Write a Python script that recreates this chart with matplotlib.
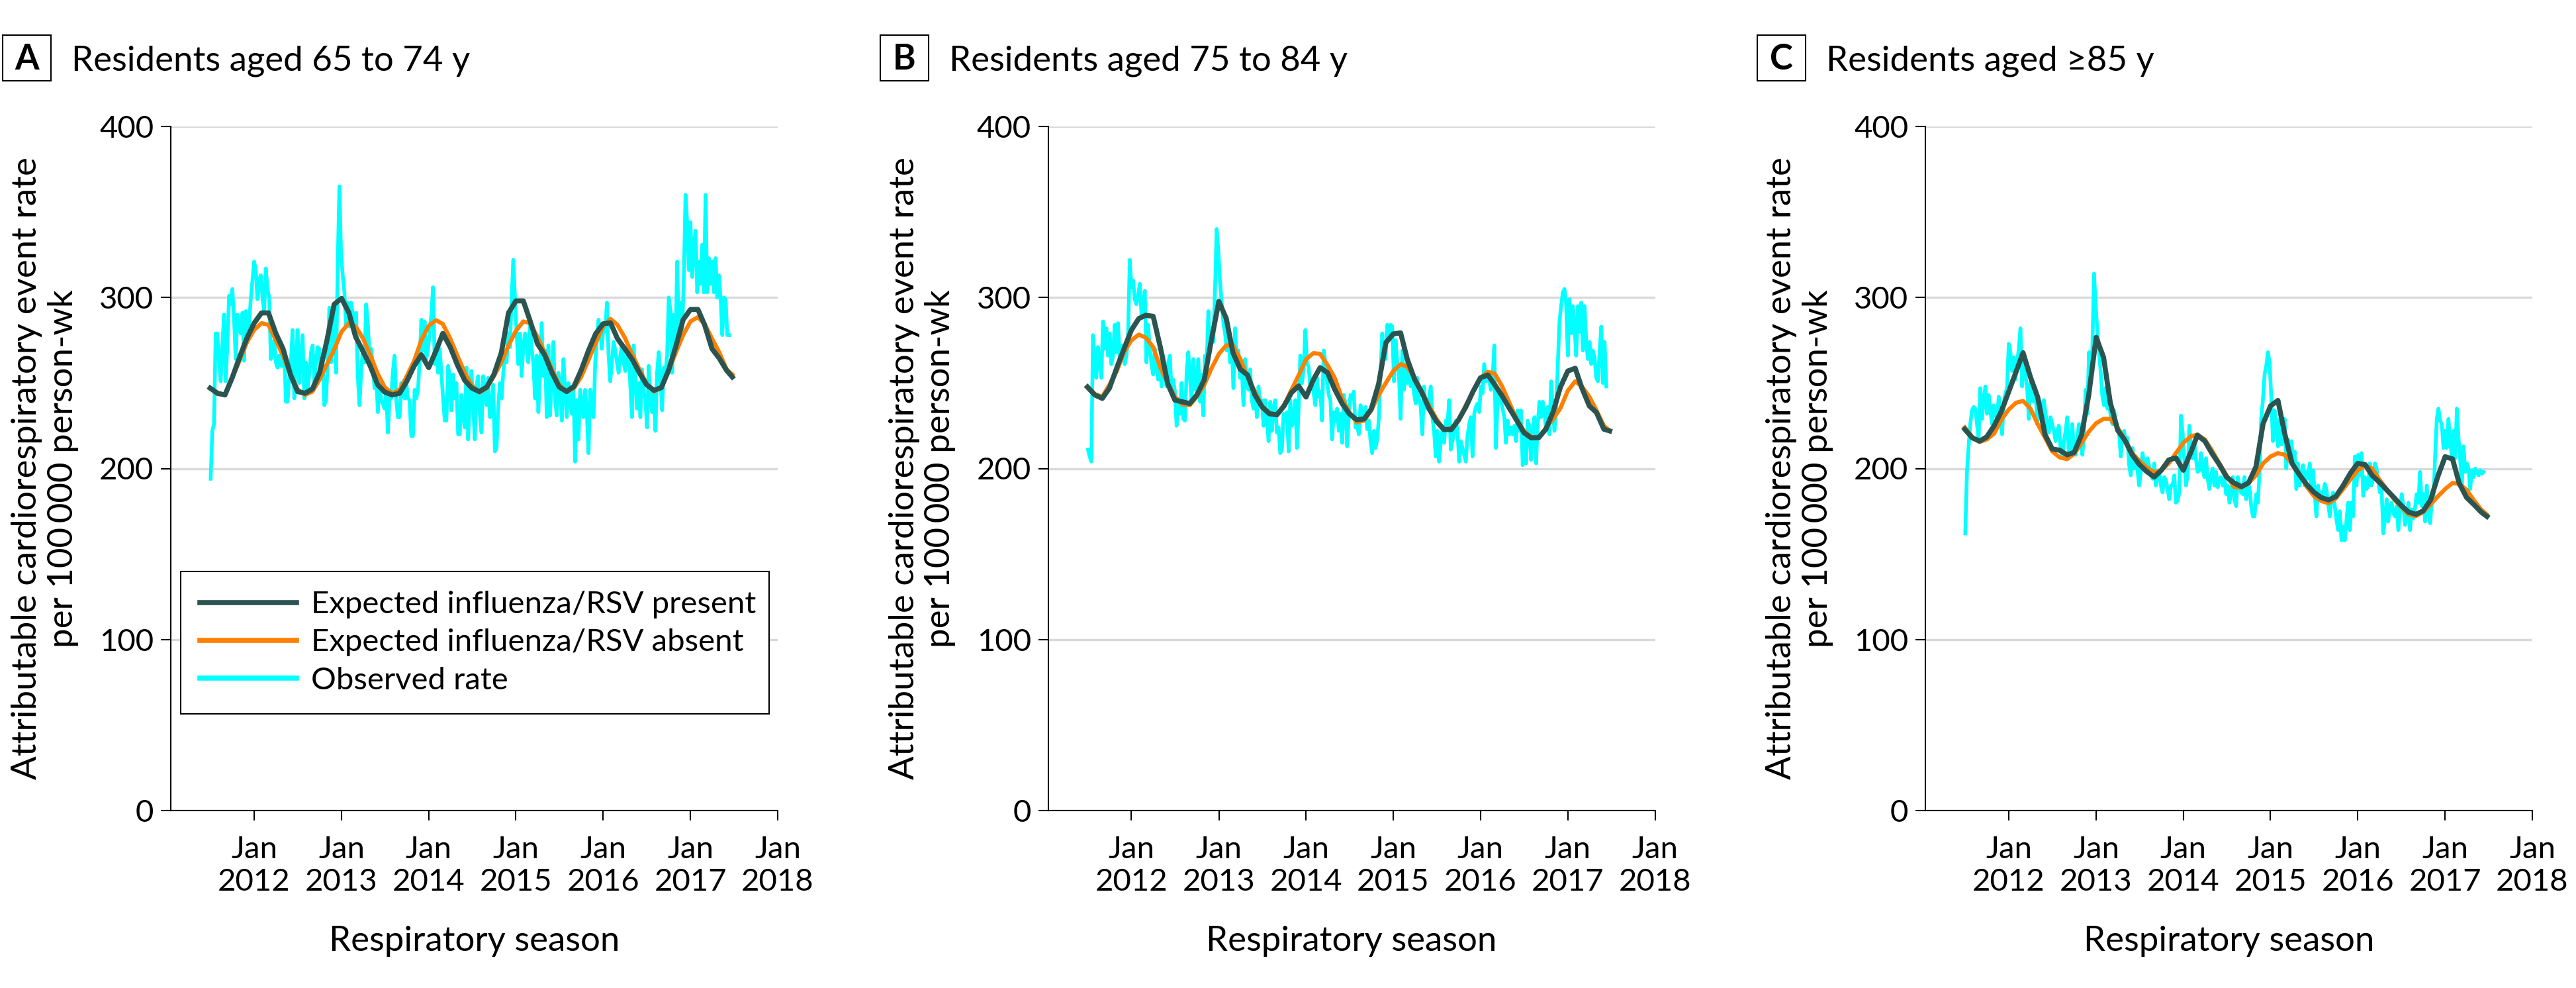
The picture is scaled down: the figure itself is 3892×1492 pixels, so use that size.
#Drei Panels: beobachtete und erwartete Ereignisraten nach Altersgruppe
import numpy as np
import pandas as pd
import matplotlib
matplotlib.use('Agg')
import matplotlib.pyplot as plt
from matplotlib.patches import Rectangle

plt.rcParams['font.family'] = ['Lato', 'DejaVu Sans']

#Beobachtete Raten (woechentlich, ab Juli 2011)
obs_a = [194, 222, 226, 279, 279, 263, 251, 272, 290, 251, 272, 301, 296, 305, 287, 264, 290, 283, 279, 291,
         263, 292, 274, 285, 299, 310, 321, 316, 299, 310, 313, 300, 292, 317, 305, 300, 264, 269, 275, 262,
         259, 266, 260, 260, 269, 239, 239, 253, 262, 281, 241, 262,
         281, 250, 265, 278, 241, 262, 246, 255, 268, 272, 250, 262, 271, 270, 255, 262, 237, 240, 262, 294,
         262, 294, 280, 256, 320, 365, 325, 313, 303, 283, 297, 283, 297, 291, 284, 291, 254, 237, 256, 270,
         262, 296, 285, 266, 270, 260, 247, 255, 233, 250, 240, 238,
         235, 245, 221, 241, 241, 257, 266, 240, 230, 230, 250, 246, 241, 250, 241, 240, 219, 219, 246, 241,
         246, 263, 287, 269, 286, 264, 270, 279, 290, 306, 261, 269, 256, 270, 256, 241, 228, 228, 260, 254,
         234, 255, 241, 250, 220, 220, 243, 231, 224, 259, 217, 240,
         257, 236, 217, 249, 254, 232, 221, 254, 246, 237, 253, 230, 231, 249, 210, 212, 236, 250, 241, 256,
         266, 262, 279, 271, 299, 322, 300, 279, 261, 279, 254, 271, 279, 272, 262, 285, 270, 262, 241, 266,
         233, 258, 285, 254, 269, 230, 272, 231, 255, 274, 240, 231,
         256, 250, 228, 264, 245, 230, 250, 240, 232, 246, 204, 240, 217, 246, 238, 230, 246, 232, 209, 246,
         238, 230, 262, 275, 287, 279, 270, 285, 280, 297, 266, 251, 262, 274, 269, 262, 256, 266, 273, 262,
         257, 266, 272, 248, 230, 272, 255, 235, 250, 230, 258, 245,
         240, 224, 260, 241, 233, 245, 222, 256, 268, 253, 234, 259, 256, 266, 300, 292, 256, 290, 269, 321,
         281, 297, 279, 312, 360, 344, 316, 344, 312, 331, 339, 303, 321, 308, 331, 303, 360, 303, 323, 308,
         321, 303, 323, 300, 313, 300, 278, 300, 299, 278, 278]
obs_b = [211, 207, 204, 278, 262, 253, 271, 264, 253, 286, 270, 282, 266, 279, 261, 266, 284, 268, 285, 264,
         272, 271, 261, 266, 278, 322, 306, 310, 299, 296, 301, 308, 290, 295, 304, 262, 284, 270, 261, 255,
         270, 258, 252, 262, 248, 266, 256, 248, 262, 266, 245, 252,
         245, 225, 240, 232, 250, 229, 228, 256, 268, 253, 240, 264, 246, 250, 264, 239, 255, 231, 266, 262,
         292, 269, 280, 274, 305, 340, 327, 309, 297, 285, 279, 269, 277, 262, 272, 247, 282, 262, 269, 253,
         259, 237, 264, 250, 246, 258, 240, 235, 245, 230, 248, 238,
         240, 225, 240, 230, 216, 239, 222, 236, 240, 221, 224, 209, 211, 232, 228, 233, 210, 240, 225, 228,
         240, 212, 235, 266, 250, 258, 281, 262, 259, 248, 252, 244, 237, 253, 242, 245, 228, 269, 262, 251,
         243, 240, 217, 233, 228, 235, 222, 232, 215, 243, 238, 213,
         230, 243, 241, 245, 224, 225, 220, 237, 232, 228, 236, 223, 228, 216, 209, 222, 212, 217, 230, 256,
         279, 265, 264, 284, 278, 284, 283, 251, 275, 262, 255, 229, 269, 246, 261, 250, 262, 248, 253, 244,
         238, 253, 241, 236, 220, 248, 236, 235, 241, 248, 230, 222,
         207, 222, 204, 216, 222, 215, 228, 225, 240, 211, 216, 222, 228, 222, 204, 216, 212, 208, 204, 219,
         226, 230, 207, 232, 236, 238, 233, 248, 244, 261, 251, 256, 251, 246, 253, 272, 212, 240, 246, 240,
         235, 230, 215, 228, 220, 224, 220, 225, 216, 234, 222, 234,
         202, 222, 203, 228, 225, 205, 220, 230, 203, 226, 239, 230, 239, 233, 222, 236, 220, 251, 235, 222,
         235, 260, 286, 295, 303, 305, 296, 266, 299, 279, 295, 283, 266, 295, 280, 297, 269, 295, 274, 264,
         274, 261, 269, 265, 253, 251, 268, 283, 250, 274, 248]
obs_c = [162, 198, 213, 226, 234, 236, 235, 226, 218, 247, 229, 240, 248, 232, 243, 234, 226, 237, 232, 229,
         242, 228, 220, 238, 244, 247, 273, 268, 257, 265, 252, 262, 270, 282, 248, 266, 255, 247, 229, 250,
         240, 239, 247, 226, 236, 239, 228, 240, 232, 226, 221, 230,
         226, 222, 216, 222, 225, 212, 206, 216, 222, 230, 206, 215, 226, 210, 208, 218, 226, 215, 208, 219,
         246, 232, 268, 255, 270, 314, 295, 281, 268, 256, 242, 237, 247, 235, 239, 230, 226, 234, 228, 225,
         221, 207, 218, 222, 215, 218, 202, 196, 212, 200, 206, 199,
         190, 198, 209, 203, 200, 206, 201, 198, 194, 203, 190, 196, 198, 190, 186, 195, 193, 188, 182, 190,
         190, 196, 180, 181, 186, 231, 221, 205, 190, 196, 225, 212, 206, 216, 205, 198, 199, 209, 200, 195,
         206, 194, 188, 196, 200, 190, 198, 189, 194, 195, 190, 194,
         185, 190, 180, 186, 195, 182, 178, 195, 190, 186, 185, 195, 182, 190, 189, 178, 172, 172, 185, 180,
         198, 229, 240, 255, 260, 268, 262, 242, 216, 234, 222, 213, 229, 214, 220, 229, 200, 217, 206, 216,
         205, 210, 188, 203, 190, 196, 202, 190, 198, 194, 203, 190,
         199, 185, 172, 190, 182, 186, 184, 191, 188, 180, 172, 182, 186, 178, 170, 164, 175, 158, 166, 158,
         170, 180, 164, 180, 172, 207, 190, 208, 196, 209, 184, 195, 188, 190, 203, 190, 195, 203, 200, 192,
         186, 188, 162, 170, 182, 169, 178, 180, 174, 172, 178, 164,
         175, 185, 178, 167, 171, 180, 164, 176, 171, 177, 185, 180, 198, 178, 185, 169, 190, 176, 168, 180,
         182, 207, 229, 235, 228, 226, 212, 222, 212, 229, 215, 208, 222, 206, 235, 218, 205, 190, 213, 198,
         203, 200, 188, 199, 195, 200, 198, 196, 199, 197, 198]

#Erwartete Raten (monatlich, Juli 2011 bis Juni 2017 plus Endwert)
present_a = [247, 244, 243, 253, 265, 276, 285, 291, 291, 279, 270, 255,
             245, 244, 246.5, 256, 275, 296, 299.5, 291, 277, 268.5, 260, 249,
             244.7, 243, 244, 251, 260, 266.5, 259, 269, 279, 271, 260.6, 251.5,
             247, 245, 247.6, 255, 267.7, 291, 298, 298, 286.5, 273, 266.5, 256,
             247.7, 245, 248, 257.4, 269, 278.8, 284.6, 285.2, 276, 270, 264, 256,
             249, 245.7, 247.3, 257.4, 271.6, 287, 293, 293, 284, 270, 264.5, 257.4,
             253.5]
absent_a = [247, 243.5, 243.5, 253, 263, 273.6, 281, 285, 284, 275, 266, 255,
            246.4, 243, 245, 252, 261, 269.5, 280, 285, 283, 276, 266.5, 255.5,
            247.5, 244, 246, 254, 263, 275, 283.5, 286.7, 284.5, 276, 266, 256,
            248.5, 244.4, 247, 254, 262, 272, 280.5, 286, 285, 277, 268, 258,
            249, 245, 247, 253.5, 263.5, 273.5, 283, 287.5, 284, 276.5, 267, 258,
            249.5, 245, 247.5, 257, 268, 278, 286, 288.5, 284.5, 276, 268, 258,
            255]
present_b = [247.6, 243, 241, 247, 259, 270, 281, 287.7, 289.6, 289, 271, 249.5,
             240, 239, 238, 243, 252, 275.4, 297.7, 287.7, 267.7, 258, 254.7, 243,
             236, 232, 231.4, 236.6, 244.4, 248.3, 241.8, 252, 259, 256, 246.3, 238,
             232, 228.5, 229, 234.7, 249.5, 273.5, 278.7, 279.3, 263.8, 252, 244.4, 234.7,
             227.6, 222.8, 222.8, 228.3, 236, 245, 253, 254.7, 249, 242.4, 235.3, 228.2,
             221, 217.9, 218, 223, 233.4, 247.6, 257, 258.6, 247, 236.6, 232.7, 223,
             222]
absent_b = [248, 243.5, 242, 249, 257, 268, 275, 278.3, 276.5, 271, 259, 250,
            242, 237.5, 237, 242, 249, 258.5, 267, 272, 272, 264, 253.5, 245,
            236.5, 232.5, 231.5, 237, 246, 254.5, 263.8, 267.5, 267, 260.5, 253, 241,
            233, 227, 228, 234, 243, 250, 257, 261, 259.5, 253, 245, 236.5,
            229, 223, 223.5, 228, 237, 245, 253, 256.5, 255.5, 248, 238.5, 229,
            222, 218.5, 218, 223.7, 229, 235.3, 245.5, 251, 248, 242, 234, 225,
            222]
present_c = [223, 218, 216, 218.5, 225, 233.4, 245, 256.7, 267.7, 253.4, 241.8, 219.8,
             211.4, 210.7, 208, 209.4, 219.8, 243, 276.7, 265, 238.6, 222.4, 216.6, 208,
             202.3, 198.2, 195, 199, 205, 206.2, 199, 209.4, 219.5, 216, 208.8, 202.3,
             195, 191.6, 189.4, 191.6, 201, 226.3, 236.6, 239.8, 220.6, 203, 196.5, 190.7,
             186.2, 183, 181.6, 183.6, 190, 197.2, 203, 202.3, 196, 192, 187.5, 183,
             178.4, 174.5, 173.2, 175.2, 181.6, 195.2, 206.9, 205.6, 191.3, 183, 179, 174.5,
             172]
absent_c = [224, 218.5, 215.5, 217, 220.5, 228.5, 234.5, 238.5, 239.5, 235, 226, 218,
            210, 206.5, 205.5, 208.5, 215, 221.5, 226.5, 229, 229, 224, 217, 209,
            204.5, 200.5, 197.8, 199, 203, 209, 215, 218.8, 219.8, 217, 210.5, 203,
            196, 189.2, 188.8, 191.5, 196, 203, 207, 209, 208, 203, 197, 189.5,
            184, 181, 179.7, 182.5, 188, 193.5, 199, 201.7, 200, 193.5, 188, 182,
            177.5, 173.2, 172.2, 174.5, 179, 183.6, 188, 191.5, 191, 187.5, 181.5, 176,
            173]

letters = ['A', 'B', 'C']
titles = ['Residents aged 65 to 74 y', 'Residents aged 75 to 84 y', 'Residents aged \u226585 y']
years = [2012, 2013, 2014, 2015, 2016, 2017, 2018]
yticks = [0, 100, 200, 300, 400]

weeks = pd.date_range('2011-07-03', periods=len(obs_a), freq='7D')
months = pd.date_range('2011-07-01', '2017-06-01', freq='MS').append(pd.DatetimeIndex(['2017-06-25']))

#Farben
c_obs = '#00ffff'
c_abs = '#ff7f00'
c_pre = '#2b5451'

W, H = 3892, 1492
fig = plt.figure(figsize=(W / 100, H / 100), dpi=100)

panels = [(obs_a, present_a, absent_a), (obs_b, present_b, absent_b), (obs_c, present_c, absent_c)]
for i, (obs, pre, ab) in enumerate(panels):
    x0 = 258 + 1325.5 * i
    ax = fig.add_axes([x0 / W, 1 - 1224 / H, 917 / W, 1033 / H])
    l_obs, = ax.plot(weeks, obs, color=c_obs, lw=4, zorder=2, label='Observed rate')
    l_abs, = ax.plot(months, ab, color=c_abs, lw=4.5, zorder=3, label='Expected influenza/RSV absent')
    l_pre, = ax.plot(months, pre, color=c_pre, lw=5.5, zorder=4, label='Expected influenza/RSV present')

    ax.set_ylim(0, 400)
    ax.set_xlim(pd.Timestamp('2011-01-17'), pd.Timestamp('2018-01-01'))
    ax.set_yticks(yticks)
    ax.set_xticks([pd.Timestamp(f'{y}-01-01') for y in years])
    ax.set_xticklabels([f'Jan\n{y}' for y in years])
    ax.grid(axis='y', color='#d9d9d9', lw=2.4)
    ax.set_axisbelow(True)
    for s in ['top', 'right']:
        ax.spines[s].set_visible(False)
    for s in ['left', 'bottom']:
        ax.spines[s].set_linewidth(1.5)
    ax.tick_params(axis='both', length=10.5, width=1.5, labelsize=34)
    ax.tick_params(axis='x', pad=17)
    ax.tick_params(axis='y', pad=8)

    ax.set_xlabel('Respiratory season', fontsize=38)
    ax.xaxis.set_label_coords(0.5, -0.168)
    ax.set_ylabel('Attributable cardiorespiratory event rate\nper 100\u2009000 person-wk', fontsize=38)
    ax.yaxis.set_label_coords(-0.152, 0.5)

    #Buchstabe im Kasten und Titel
    fig.add_artist(Rectangle(((4 + 1325.5 * i) / W, 1 - 122 / H), 73 / W, 69 / H,
                             transform=fig.transFigure, fill=False, ec='black', lw=1.5))
    fig.text((40.5 + 1325.5 * i) / W, 1 - 105 / H, letters[i], fontsize=38, fontweight='bold',
             ha='center', va='baseline')
    fig.text((108 + 1325.5 * i) / W, 1 - 107 / H, titles[i], fontsize=38, ha='left', va='baseline')

    if i == 0:
        leg = ax.legend(handles=[l_pre, l_abs, l_obs], loc='center', mode='expand',
                        bbox_to_anchor=(0.016, 0.132, 0.97, 0.227), borderaxespad=0, fontsize=34,
                        frameon=True, fancybox=False, framealpha=1, edgecolor='black',
                        handlelength=3.1, handletextpad=0.45, labelspacing=0.32, borderpad=0.62)
        leg.get_frame().set_linewidth(1.5)
        for h in leg.legend_handles:
            h.set_linewidth(5.5)

fig.savefig('out.png', dpi=100)
